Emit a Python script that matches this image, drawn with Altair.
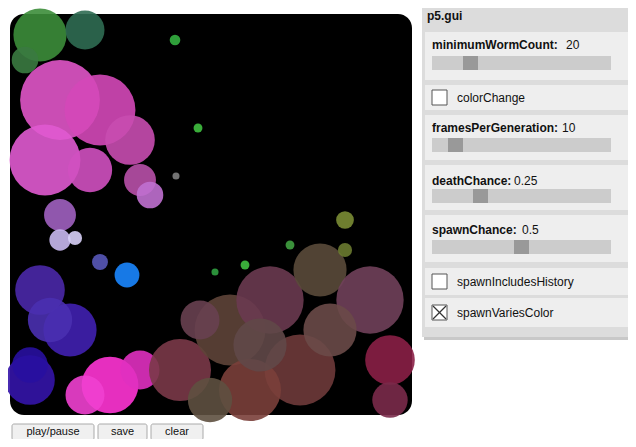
import altair as alt
import pandas as pd
import math

# --- canvas blobs (screen-pixel coordinates) ---
blob_x = [40, 85, 25, 60, 100, 45, 130, 90, 140, 60, 150, 60, 75, 127, 40, 70, 30, 50, 110, 140, 85, 180, 230, 270, 320, 370, 390, 300, 250, 210, 260, 330, 390, 200, 345, 345, 175, 198, 176, 245, 290, 215, 100, 30]
blob_y = [35, 30, 60, 100, 110, 160, 140, 170, 180, 215, 195, 240, 238, 275, 290, 330, 380, 320, 385, 370, 395, 370, 330, 300, 270, 300, 360, 370, 390, 400, 345, 330, 400, 320, 220, 250, 40, 128, 176, 265, 245, 272, 262, 365]
blob_r = [30, 22, 15, 45, 40, 40, 28, 25, 18, 18, 15, 12, 8, 14, 28, 30, 28, 25, 32, 22, 22, 35, 40, 38, 30, 38, 28, 40, 35, 25, 30, 30, 20, 22, 10, 8, 6, 5, 4, 5, 5, 4, 9, 20]
blob_c = ["#3c8d3a", "#2f6b52", "#3a7a40", "#e055c8", "#d448b8", "#e05ad0", "#c84cb0", "#d050c0", "#b850a8", "#a060c0", "#c070d0", "#c8b8f0", "#d8d0f8", "#1a86ff", "#4a28a8", "#4020b0", "#3414a8", "#4a30b0", "#ff34d4", "#e030c0", "#f040d0", "#7a3848", "#5e4438", "#6a3a50", "#5a4a3a", "#70405a", "#8a1f46", "#6e3a3a", "#7a3f3a", "#5e5040", "#604848", "#6a4a48", "#7a2a4a", "#684050", "#7a8c34", "#6a7a30", "#34b040", "#40c040", "#808080", "#40c040", "#40a040", "#30a040", "#5858b8", "#2810a0"]

# --- GUI ---
slider_label = ["minimumWormCount:", "framesPerGeneration:", "deathChance:", "spawnChance:"]
slider_value = ["20", "10", "0.25", "0.5"]
slider_value_x = [566, 562, 514, 522]
slider_label_y = [45, 128, 181, 230]
slider_track_y = [56, 138, 189, 240]
slider_handle_x = [463, 448, 473, 514]
check_label = ["colorChange", "spawnIncludesHistory", "spawnVariesColor"]
check_y = [90, 274, 305]
sec_y1 = [32, 85, 115, 165, 215, 268, 298]
sec_y2 = [80, 110, 160, 210, 262, 295, 327]
buttons = ["play/pause", "save", "clear"]
btn_x1 = [12, 98, 151]
btn_x2 = [94, 147, 203]

X = alt.Scale(domain=[8, 628])
Y = alt.Scale(domain=[8, 439], reverse=True)

def rects(df, fill, stroke=None, corner=0, sw=1):
    kw = dict(fill=fill, cornerRadius=corner)
    if stroke:
        kw.update(stroke=stroke, strokeWidth=sw)
    return alt.Chart(df).mark_rect(**kw).encode(
        x=alt.X("x1:Q", scale=X, axis=None), x2="x2:Q",
        y=alt.Y("y1:Q", scale=Y, axis=None), y2="y2:Q")

def texts(df, bold=False, align="left", size=12):
    return alt.Chart(df).mark_text(align=align, baseline="middle", font="Liberation Sans",
                                   fontSize=size, fontWeight="bold" if bold else "normal",
                                   color="#111").encode(
        x=alt.X("x:Q", scale=X, axis=None), y=alt.Y("y:Q", scale=Y, axis=None), text="t:N")

layers = []
layers.append(rects(pd.DataFrame({"x1": [10], "x2": [412], "y1": [14], "y2": [415]}), "#000", corner=14))
bdf = pd.DataFrame({"x": blob_x, "y": blob_y, "s": [math.pi * r * r for r in blob_r], "c": blob_c})
layers.append(alt.Chart(bdf).mark_circle(opacity=0.9).encode(
    x=alt.X("x:Q", scale=X, axis=None), y=alt.Y("y:Q", scale=Y, axis=None),
    size=alt.Size("s:Q", scale=None, legend=None), color=alt.Color("c:N", scale=None, legend=None)))

# panel
layers.append(rects(pd.DataFrame({"x1": [424], "x2": [634], "y1": [7], "y2": [340]}), "#c8c8c8"))
layers.append(rects(pd.DataFrame({"x1": [422], "x2": [631], "y1": [5], "y2": [337]}), "#dcdcdc"))
layers.append(texts(pd.DataFrame({"x": [427], "y": [16], "t": ["p5.gui"]}), bold=True))
layers.append(rects(pd.DataFrame({"x1": [425] * 7, "x2": [628] * 7, "y1": sec_y1, "y2": sec_y2}), "#eeeeee"))
layers.append(rects(pd.DataFrame({"x1": [432] * 4, "x2": [611] * 4, "y1": slider_track_y,
                                  "y2": [v + 14 for v in slider_track_y]}), "#cccccc"))
layers.append(rects(pd.DataFrame({"x1": slider_handle_x, "x2": [v + 15 for v in slider_handle_x],
                                  "y1": slider_track_y, "y2": [v + 14 for v in slider_track_y]}), "#999999"))
layers.append(texts(pd.DataFrame({"x": [432] * 4, "y": slider_label_y, "t": slider_label}), bold=True))
layers.append(texts(pd.DataFrame({"x": slider_value_x, "y": slider_label_y, "t": slider_value})))
layers.append(rects(pd.DataFrame({"x1": [432] * 3, "x2": [447] * 3, "y1": check_y,
                                  "y2": [v + 15 for v in check_y]}), "#ffffff", stroke="#555"))
layers.append(texts(pd.DataFrame({"x": [457] * 3, "y": [v + 8 for v in check_y], "t": check_label})))
cx = pd.DataFrame({"x1": [433, 433], "x2": [446, 446], "y1": [306, 319], "y2": [319, 306]})
layers.append(alt.Chart(cx).mark_rule(color="#333", strokeWidth=1.2).encode(
    x=alt.X("x1:Q", scale=X, axis=None), x2="x2:Q", y=alt.Y("y1:Q", scale=Y, axis=None), y2="y2:Q"))

# buttons
layers.append(rects(pd.DataFrame({"x1": btn_x1, "x2": btn_x2, "y1": [424] * 3, "y2": [440] * 3}),
                    "#f0f0f0", stroke="#aaa", corner=2))
layers.append(texts(pd.DataFrame({"x": [(a + b) / 2 for a, b in zip(btn_x1, btn_x2)], "y": [432] * 3,
                                  "t": buttons}), align="center", size=11))

chart = alt.layer(*layers).properties(width=620, height=431, padding=0, background="white",
                                     autosize=alt.AutoSizeParams(type="none")).configure_view(stroke=None)
chart.save("out.html", embed_options={"renderer": "svg", "actions": False})
